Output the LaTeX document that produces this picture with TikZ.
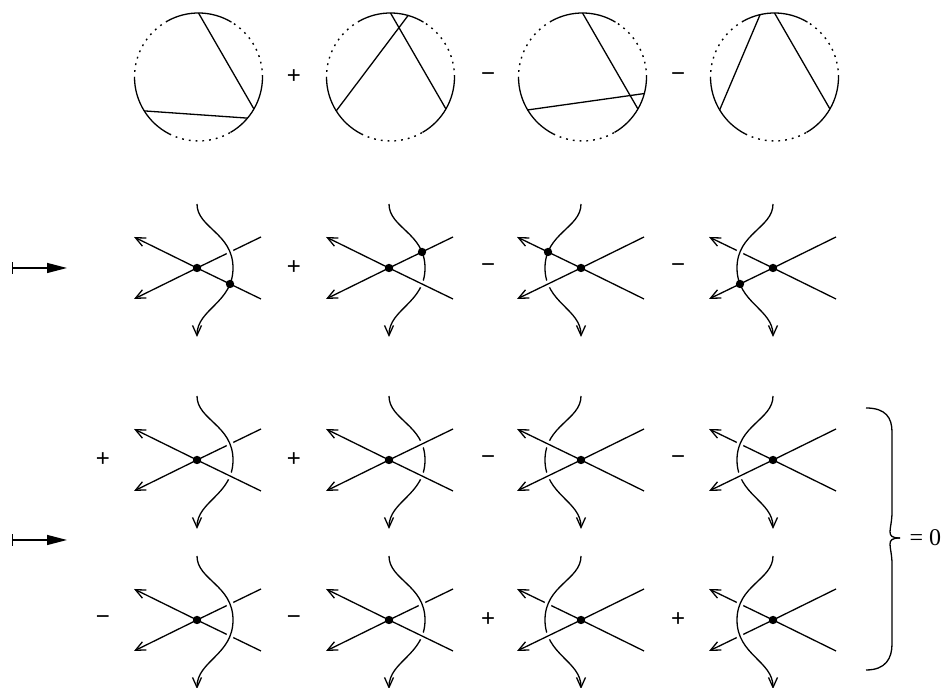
\documentclass[tikz,border=0pt]{standalone}
\usepackage{fontspec}
\newfontfamily\signfont{Liberation Sans}
\newfontfamily\eqfont{Liberation Serif}
\usetikzlibrary{arrows.meta,calc}

\tikzset{
  arrowed/.style={-{Straight Barb[length=5pt,width=4.5pt]}},
  halo/.style={white,line width=3.5pt},
  dotarc/.style={line width=0.7pt,dash pattern=on 0.9pt off 2.5pt},
  mapsto/.style={{Bar[width=6pt]}-{Triangle[length=10pt,width=5pt]}},
  signnode/.style={font=\signfont\fontsize{12}{14}\selectfont},
  eqnode/.style={font=\eqfont\fontsize{12}{14}\selectfont,inner sep=0pt,anchor=west}
}

% chord diagram: centre, then the end angles of the two chords
\newcommand{\chorddiag}[5]{%
  \begin{scope}[shift={#1}]
    \coordinate (c1) at (#2:64); \coordinate (c2) at (#3:64);
    \coordinate (c3) at (#4:64); \coordinate (c4) at (#5:64);
    % solid arcs
    \draw (59:64) arc (59:119:64);
    \draw (180:64) arc (180:243:64);
    \draw (300:64) arc (300:360:64);
    % dotted arcs
    \draw[dotarc] (119:64) arc (119:180:64);
    \draw[dotarc] (243:64) arc (243:300:64);
    \draw[dotarc] (0:64) arc (0:59:64);
    % chords
    \draw (c1) -- (c2);
    \draw (c3) -- (c4);
  \end{scope}}

% crossing picture: centre, side of the bulge (1 or -1),
% state at the upper and lower crossing (C curve over, L line over, V vertex)
\newcommand{\crossdiag}[4]{%
  \begin{scope}[shift={#1},xscale=#2]
    \ifnum#2>0 \tikzset{backhalf/.style=arrowed,fronthalf/.style={}}%
    \else \tikzset{backhalf/.style={},fronthalf/.style=arrowed}\fi
    \coordinate (o) at (0,0);
    \coordinate (ur) at (64,31); \coordinate (lr) at (64,-31);
    \coordinate (ul) at (-63,31); \coordinate (ll) at (-63,-31);
    \coordinate (top) at (0,64); \coordinate (bot) at (0,-69);
    \coordinate (xu) at (33,16); \coordinate (xl) at (33,-16);
    % halves away from the curve
    \draw[backhalf] (o) -- (ul);
    \draw[backhalf] (o) -- (ll);
    % halves under the curve
    \if#3C\draw[fronthalf] (o) -- (ur);\fi
    \if#4C\draw[fronthalf] (o) -- (lr);\fi
    % the curve
    \draw[halo] (top) .. controls +(0,-24) and +(0,35) .. (36,0)
      .. controls +(0,-35) and +(0,28) .. (bot);
    \draw[arrowed] (top) .. controls +(0,-24) and +(0,35) .. (36,0)
      .. controls +(0,-35) and +(0,28) .. (bot);
    % halves over the curve
    \if#3L\draw[halo] ($(o)!.25!(ur)$) -- ($(o)!.8!(ur)$);
      \draw[fronthalf] (o) -- (ur);\fi
    \if#4L\draw[halo] ($(o)!.25!(lr)$) -- ($(o)!.8!(lr)$);
      \draw[fronthalf] (o) -- (lr);\fi
    % halves meeting the curve
    \if#3V\draw[fronthalf] (o) -- (ur); \fill (xu) circle (4.2);\fi
    \if#4V\draw[fronthalf] (o) -- (lr); \fill (xl) circle (4.2);\fi
    \fill (o) circle (4.2);
  \end{scope}}

\begin{document}
\begin{tikzpicture}[x=0.5pt,y=0.5pt,line width=0.65pt]
  \useasboundingbox (0,0) rectangle (947,688);

  % chord diagrams
  \chorddiag{(198.5,611)}{90}{330}{212}{320}
  \chorddiag{(390.5,611)}{90}{330}{74}{212}
  \chorddiag{(582.5,611)}{90}{330}{211}{345}
  \chorddiag{(774.5,611)}{103}{211}{90}{330}
  \foreach \x/\s [count=\i] in {294/+,488/−,678/−}
    \node[signnode] (sa\i) at (\x,611) {\s};

  % first map
  \coordinate (ma) at (12,420); \coordinate (mb) at (67,420);
  \draw[mapsto] (ma) -- (mb);
  \crossdiag{(197,420)}{1}{C}{V}
  \crossdiag{(389,420)}{1}{V}{L}
  \crossdiag{(581,420)}{-1}{V}{L}
  \crossdiag{(773,420)}{-1}{C}{V}
  \foreach \x/\s [count=\i] in {294/+,488/−,678/−}
    \node[signnode] (sb\i) at (\x,420) {\s};

  % second map
  \coordinate (mc) at (12,148); \coordinate (md) at (67,148);
  \draw[mapsto] (mc) -- (md);
  \crossdiag{(197,228)}{1}{C}{L}
  \crossdiag{(389,228)}{1}{L}{L}
  \crossdiag{(581,228)}{-1}{L}{L}
  \crossdiag{(773,228)}{-1}{C}{L}
  \foreach \x/\s [count=\i] in {103/+,294/+,488/−,678/−}
    \node[signnode] (sc\i) at (\x,228) {\s};
  \crossdiag{(197,68)}{1}{C}{C}
  \crossdiag{(389,68)}{1}{C}{L}
  \crossdiag{(581,68)}{-1}{C}{L}
  \crossdiag{(773,68)}{-1}{C}{C}
  \foreach \x/\s [count=\i] in {103/−,294/−,488/+,678/+}
    \node[signnode] (sd\i) at (\x,68) {\s};

  % brace
  \coordinate (btop) at (866,280); \coordinate (bbot) at (866,18);
  \coordinate (btip) at (900,150);
  \draw (btop) .. controls +(20,0) and +(0,14) .. (892,256) -- (892,176)
    .. controls (892,158) and (884,150) .. (btip);
  \draw (bbot) .. controls +(20,0) and +(0,-14) .. (892,44) -- (892,124)
    .. controls (892,142) and (884,150) .. (btip);
  \node[eqnode] (zero) at (909,150) {= 0};
\end{tikzpicture}
\end{document}
